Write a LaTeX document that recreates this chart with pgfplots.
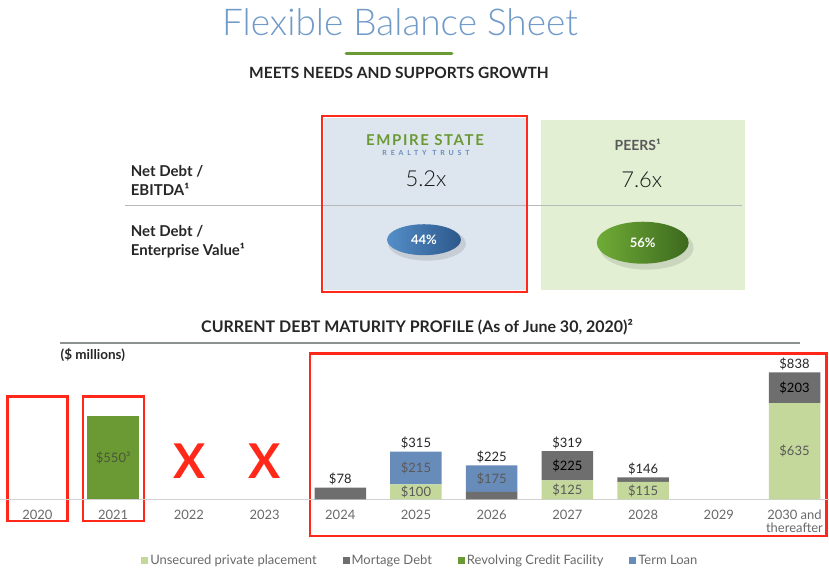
\documentclass[border=0pt]{standalone}
\usepackage{fontspec}
\setmainfont{Lato}
\newfontfamily\lightfont{Lato Light}
\usepackage{pgfplots}
\usepackage{pgfplotstable}
\pgfplotsset{compat=1.18}

\definecolor{unsec}{RGB}{197,216,156}
\definecolor{mort}{RGB}{110,110,110}
\definecolor{revolv}{RGB}{107,154,53}
\definecolor{tloan}{RGB}{104,140,186}
\definecolor{ttlblue}{RGB}{112,154,200}
\definecolor{redmark}{RGB}{255,40,25}
\definecolor{esrtbg}{RGB}{221,229,238}
\definecolor{peerbg}{RGB}{226,239,211}
\definecolor{txtgray}{RGB}{105,105,105}
\definecolor{ruleg}{RGB}{140,146,146}
\definecolor{revtxt}{RGB}{72,88,55}

% debt maturities, $ millions
\pgfplotstableread{
x  unsec mort revolv tloan
0  0     0    0      0
1  0     0    550    0
2  0     0    0      0
3  0     0    0      0
4  0     78   0      0
5  100   0    0      215
6  0     50   0      175
7  125   194  0      0
8  115   31   0      0
9  0     0    0      0
10 635   203  0      0
}\debt

\newcommand{\fs}[1]{\fontsize{#1}{#1}\selectfont}

\begin{document}
\begin{tikzpicture}
\begin{scope}[x=1pt,y=-1pt]
  \fill[white] (0,0) rectangle (829,572);
  % header
  \node[font=\lightfont\fs{37}, text=ttlblue] at (400,22) {Flexible Balance Sheet};
  \draw[revolv, line width=3pt, line cap=round] (346,54) -- (452,54);
  \node[font=\bfseries\fs{15.5}, text=black!85] at (399,73) {MEETS NEEDS AND SUPPORTS GROWTH};

  % comparison panels
  \fill[esrtbg] (324,118) rectangle (526,290);
  \fill[peerbg] (541,120) rectangle (745,290);
  \draw[gray!55, line width=1pt] (125,206) -- (742,206);

  \node[anchor=west, align=left, font=\bfseries\fs{15}, text=black!85] at (127,181)
    {Net Debt /\\[4pt]EBITDA¹};
  \node[anchor=west, align=left, font=\bfseries\fs{15}, text=black!85] at (127,242)
    {Net Debt /\\[4pt]Enterprise Value¹};

  \node[font=\bfseries\fs{15}, text=revolv] at (425,140) {\addfontfeatures{LetterSpace=11}EMPIRE STATE};
  \node[font=\bfseries\fs{7}, text=tloan] at (426,153) {\addfontfeatures{LetterSpace=55}REALTY TRUST};
  \node[font=\lightfont\fs{22}, text=black!90] at (426,179) {5.2x};
  \node[font=\bfseries\fs{14}, text=black!65] at (638,145) {PEERS¹};
  \node[font=\lightfont\fs{22}, text=black!90] at (642,180) {7.6x};

  \fill[black, opacity=0.10] (427,244) ellipse (39 and 17);
  \shade[left color={rgb,255:red,84;green,142;blue,200}, right color={rgb,255:red,44;green,88;blue,138}]
    (424,240) ellipse (37 and 15.5);
  \node[font=\bfseries\fs{13}, text=white] at (424,240) {44\%};
  \fill[black, opacity=0.10] (647,248) ellipse (47 and 22);
  \shade[left color={rgb,255:red,112;green,172;blue,55}, right color={rgb,255:red,60;green,105;blue,30}]
    (643,243) ellipse (46 and 21);
  \node[font=\bfseries\fs{13}, text=white] at (643,243) {56\%};

  % maturity profile header
  \node[font=\bfseries\fs{16}, text=black!85] at (417,328)
    {CURRENT DEBT MATURITY PROFILE (As of June 30, 2020)²};
  \draw[ruleg, line width=2pt] (60,343) -- (800,343);
  \node[anchor=west, font=\bfseries\fs{13.5}, text=black!85, inner sep=0pt] at (60,355) {(\$ millions)};

  % annotations
  \draw[redmark, line width=2.2pt] (322,116) rectangle (527,292);
  \draw[redmark, line width=2.2pt] (7,397) rectangle (67,522);
  \draw[redmark, line width=2.2pt] (83,397) rectangle (144,522);
  \draw[redmark, line width=2.2pt] (310,354) rectangle (827,537);
  \node[font=\bfseries\fs{48}, text=redmark] at (189,462) {X};
  \node[font=\bfseries\fs{48}, text=redmark] at (264,462) {X};
\end{scope}

\begin{axis}[
  at={(0pt,-500pt)}, anchor=south west,
  scale only axis, width=829pt, height=150pt,
  xmin=-0.488, xmax=10.449, ymin=0, ymax=989,
  ybar stacked, bar width=0.68,
  hide y axis, axis x line*=bottom,
  x axis line style={draw=black!18, line width=1pt},
  major tick length=0pt,
  xtick={0,...,10},
  xticklabels={2020,2021,2022,2023,2024,2025,2026,2027,2028,2029,{2030 and\\thereafter}},
  xticklabel style={align=center, anchor=north, yshift=-7pt, text=txtgray, font=\fs{13}},
  clip=false,
  legend columns=4,
  legend style={draw=none, fill=none, at={(0.507,-0.41)}, anchor=center,
    font=\fs{13}, text=txtgray,
    /tikz/every even column/.append style={column sep=24pt}},
  legend image code/.code={\fill[#1] (0pt,-3.5pt) rectangle (7pt,3.5pt);},
]
\addplot[fill=unsec, draw=none] table[x=x, y=unsec] {\debt};
\addplot[fill=mort, draw=none] table[x=x, y=mort] {\debt};
\addplot[fill=revolv, draw=none] table[x=x, y=revolv] {\debt};
\addplot[fill=tloan, draw=none] table[x=x, y=tloan] {\debt};
\legend{Unsecured private placement, Mortage Debt, Revolving Credit Facility, Term Loan}

% label anchors
\coordinate (t4) at (axis cs:4,78);
\coordinate (t5) at (axis cs:5,315);
\coordinate (t6) at (axis cs:6,225);
\coordinate (t7) at (axis cs:7,319);
\coordinate (t8) at (axis cs:8,146);
\coordinate (t10) at (axis cs:10,838);
\coordinate (s1) at (axis cs:1,275);
\coordinate (s5a) at (axis cs:5,50);
\coordinate (s5b) at (axis cs:5,207);
\coordinate (s6) at (axis cs:6,137);
\coordinate (s7a) at (axis cs:7,62);
\coordinate (s7b) at (axis cs:7,222);
\coordinate (s8) at (axis cs:8,57);
\coordinate (s10a) at (axis cs:10,317);
\coordinate (s10b) at (axis cs:10,736);
\end{axis}

% totals
\begin{scope}[every node/.style={font=\fs{13}, text=black!85}]
\node[above, inner sep=2pt] at (t4) {\$78};
\node[above, inner sep=2pt] at (t5) {\$315};
\node[above, inner sep=2pt] at (t6) {\$225};
\node[above, inner sep=2pt] at (t7) {\$319};
\node[above, inner sep=2pt] at (t8) {\$146};
\node[above, inner sep=2pt] at (t10) {\$838};
% segment values
\node[text=revtxt] at (s1) {\$550³};
\node[text=black!65] at (s5a) {\$100};
\node[text=black!65] at (s5b) {\$215};
\node[text=black!65] at (s6) {\$175};
\node[text=black!65] at (s7a) {\$125};
\node[text=black] at (s7b) {\$225};
\node[text=black!65] at (s8) {\$115};
\node[text=black!65] at (s10a) {\$635};
\node[text=black] at (s10b) {\$203};
\end{scope}
\end{tikzpicture}
\end{document}
